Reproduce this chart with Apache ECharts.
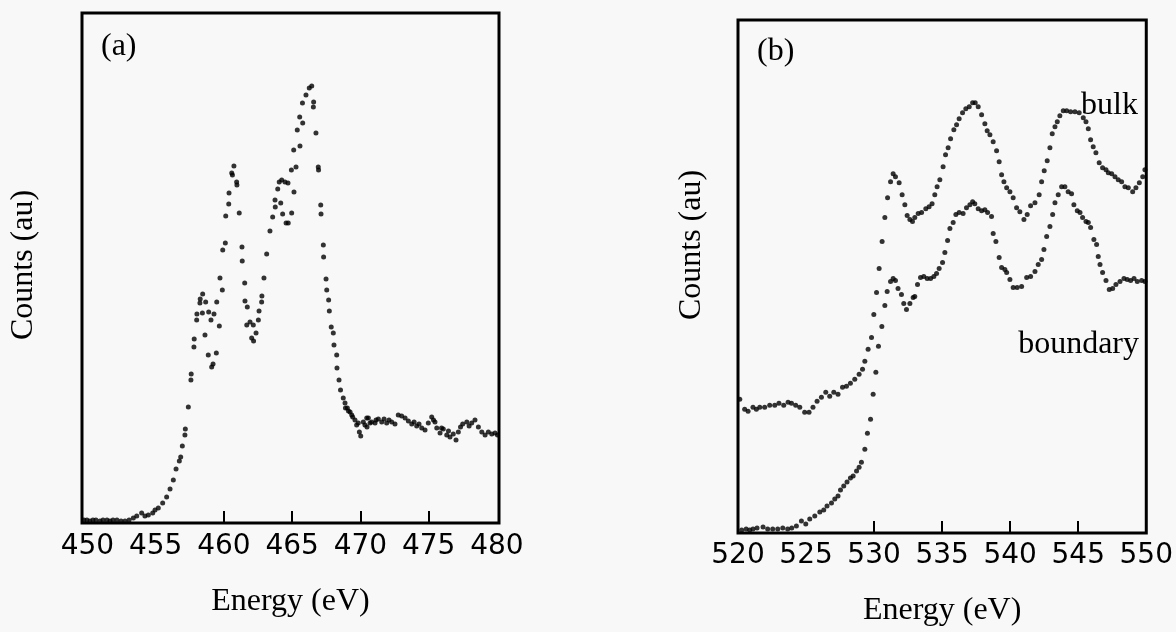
<!DOCTYPE html>
<html><head><meta charset="utf-8">
<script src="https://cdn.jsdelivr.net/npm/echarts@6/dist/echarts.min.js"></script>
<style>html,body{margin:0;padding:0;background:#f8f8f8}#c{width:1176px;height:632px}</style>
</head><body><div id="c"></div>
<script>
// Panel (a): [energy eV, counts au]
const spectrumA = [
[449.74,3],[449.96,3],[450.18,2],[450.4,3],[450.62,3],[450.92,2],[451.14,3],[451.43,3],[451.65,2],[451.87,3],[452.16,3],[452.46,2],[452.75,2],[453.05,3],
[453.36,5],[453.61,7],[453.97,10],[454.21,7],[454.46,8],[454.78,10],[454.95,13],
[455.19,15],[455.51,20],[455.80,26],[456.05,34],[456.29,43],[456.49,54],[456.73,62],[456.83,66],[456.95,77],
[457.14,88],[457.17,94],[457.39,116],[457.58,143],[457.6,149],[457.80,176],[457.82,184],[458.00,203],[458.02,209],
[458.24,220],[458.26,224],[458.44,229],[458.42,210],[458.66,221],[458.61,188],[458.88,211],[458.85,168],[459.05,203],[459.10,156],[459.2,159],
[459.27,209],[459.44,170],[459.47,221],[459.66,197],[459.71,245],[459.88,233],[459.91,273],[460.10,280],[460.13,307],
[460.35,319],[460.37,330],[460.57,350],[460.62,348],[460.73,357],[460.93,341],[460.95,338],[461.12,310],
[461.32,276],[461.34,262],[461.52,240],[461.54,222],[461.71,216],[461.67,198],[461.91,201],[462.03,185],[462.15,198],[462.17,182],
[462.35,190],[462.52,203],[462.57,212],[462.76,221],[462.78,227],[462.93,245],[463.13,269],[463.37,292],[463.57,306],[463.74,323],[463.76,316],
[463.94,334],[464.05,341],[464.16,320],[464.30,309],[464.23,343],[464.47,341],[464.55,300],[464.71,300],[464.69,340],[464.96,310],[464.94,353],
[465.13,331],[465.11,373],[465.28,356],[465.37,393],[465.57,377],[465.55,406],[465.77,400],[465.75,420],[466.01,428],
[466.25,435],[466.43,437],[466.55,416],[466.57,421],[466.74,390],[466.91,356],[466.93,353],[467.09,318],[467.11,309],[467.28,278],[467.30,266],
[467.48,244],[467.53,233],[467.67,223],[467.72,212],[467.86,196],[468.01,190],[468.06,178],[468.26,168],[468.28,155],[468.43,143],[468.54,133],[468.74,125],[468.87,120],[468.9,115],
[469.04,115],[469.12,112],[469.24,111],[469.36,108],[469.43,106],[469.60,103],[469.72,98],[469.84,100],[469.92,91],[470.02,87],
[470.21,101],[470.33,98],[470.46,105],[470.48,96],[470.58,105],[470.70,100],[470.82,101],[471.07,100],[471.14,103],
[471.31,104],[471.56,101],[471.73,104],[471.92,100],[472.09,103],[472.29,101],[472.53,99],[472.77,108],
[473.02,107],[473.27,105],[473.51,102],[473.76,99],[473.93,101],[474.12,97],[474.29,99],
[474.49,95],[474.73,93],[474.97,100],[475.22,106],[475.35,103],[475.46,101],[475.59,95],
[475.83,90],[475.94,95],[476.07,94],[476.32,88],[476.45,92],[476.56,86],[476.80,89],
[477.00,83],[477.17,91],[477.33,96],[477.49,99],[477.79,101],[477.96,97],[478.15,100],[478.39,103],
[478.64,96],[478.89,91],[479.13,88],[479.37,91],[479.62,89],[479.86,90],[480.04,88]
];
// Panel (b): bulk
const bulkB = [
[520.13,134],[520.49,124],[520.74,122],[521.10,126],[521.35,124],[521.60,126],[521.96,126],[522.33,128],[522.70,128],[523.01,130],
[523.36,128],[523.68,131],[523.93,130],[524.24,128],[524.54,126],[524.90,121],[525.22,121],[525.51,126],[525.81,132],[526.13,136],
[526.45,141],[526.74,137],[527.04,141],[527.35,139],[527.68,146],[527.97,147],[528.26,150],[528.58,154],[528.90,159],[529.15,164],
[529.32,172],[529.56,184],[529.81,196],[529.98,219],[530.18,241],[530.37,265],[530.59,292],[530.79,316],[530.99,336],[531.21,352],
[531.40,360],[531.57,357],[531.84,351],[532.06,339],[532.26,329],[532.43,318],[532.63,314],[532.82,312],[532.99,316],[533.24,320],
[533.49,321],[533.80,325],[534.04,327],[534.26,330],[534.46,339],[534.63,347],[534.83,354],[535.07,367],[535.25,379],[535.44,386],
[535.62,395],[535.86,404],[536.06,409],[536.25,415],[536.50,421],[536.74,425],[536.99,427],[537.24,431],[537.43,431],[537.65,427],
[537.90,419],[538.14,410],[538.31,403],[538.51,399],[538.75,392],[539.00,383],[539.19,372],[539.37,359],[539.54,352],[539.74,346],
[539.98,342],[540.22,336],[540.47,326],[540.71,322],[541.01,314],[541.25,319],[541.50,328],[541.82,331],[542.13,339],[542.31,352],
[542.50,363],[542.72,373],[542.92,386],[543.09,400],[543.29,407],[543.46,412],[543.65,418],[543.90,423],[544.15,423],[544.44,422],
[544.76,422],[545.07,421],[545.37,416],[545.57,412],[545.74,405],[545.91,394],[546.10,387],[546.30,381],[546.54,371],[546.79,366],
[547.04,364],[547.21,361],[547.46,360],[547.70,357],[547.94,354],[548.19,352],[548.43,347],[548.68,346],[549.00,342],[549.24,346],
[549.49,351],[549.74,357],[549.90,364]
];
// Panel (b): boundary
const boundaryB = [
[520.27,3],[520.60,4],[520.86,3],[521.10,4],[521.40,5],[521.84,6],[522.18,4],[522.55,4],[522.92,4],[523.29,5],
[523.65,4],[523.95,5],[524.29,7],[524.66,12],[524.98,9],[525.27,14],[525.64,17],[526.01,21],[526.30,23],[526.54,27],
[526.87,30],[527.11,34],[527.35,37],[527.53,43],[527.77,47],[528.01,51],[528.26,55],[528.46,57],[528.71,62],[528.90,66],
[529.07,71],[529.32,84],[529.51,100],[529.74,114],[529.93,139],[530.13,161],[530.32,187],[530.57,207],[530.79,228],[530.96,242],
[531.21,252],[531.40,255],[531.57,253],[531.76,245],[532.01,239],[532.18,230],[532.38,224],[532.63,230],[532.87,236],[532.99,237],
[533.19,249],[533.41,256],[533.65,257],[533.90,255],[534.15,255],[534.39,257],[534.59,260],[534.78,265],[535.03,271],[535.20,281],
[535.40,293],[535.57,305],[535.81,311],[536.01,319],[536.25,321],[536.54,320],[536.79,326],[537.04,329],[537.24,332],[537.40,330],
[537.65,325],[537.90,323],[538.14,324],[538.34,321],[538.63,317],[538.75,300],[538.95,292],[539.19,276],[539.37,266],[539.61,264],
[539.74,261],[539.98,254],[540.22,246],[540.51,246],[540.84,247],[541.21,256],[541.50,257],[541.82,262],[542.06,269],[542.31,274],
[542.48,284],[542.68,297],[542.92,307],[543.12,319],[543.29,331],[543.53,339],[543.78,347],[544.02,347],[544.26,342],[544.51,340],
[544.68,329],[544.93,323],[545.13,321],[545.32,316],[545.57,312],[545.74,311],[545.91,306],[546.15,294],[546.35,289],[546.47,277],
[546.60,269],[546.79,261],[547.04,253],[547.28,244],[547.53,245],[547.77,249],[548.07,252],[548.36,255],[548.60,254],[548.85,253],
[549.10,255],[549.34,252],[549.66,253],[549.90,252]
];
const labelsA = [450,455,460,465,470,475,480];
const labelsB = [520,525,530,535,540,545,550];
const ticksA = [460,465,470,475];
const ticksB = [530,535,540,545];

const serif = '"Liberation Serif", "Times New Roman", serif';
const sans = '"DejaVu Sans", sans-serif';
const ink = '#000';

function xAx(gi, min, max, labels, ticks, gap, margin) {
  return {
    type: 'value', gridIndex: gi, min: min, max: max,
    name: 'Energy (eV)', nameLocation: 'middle', nameGap: gap,
    nameTextStyle: {fontFamily: serif, fontSize: 32, color: ink},
    axisLine: {show: false}, splitLine: {show: false},
    axisTick: {show: true, inside: true, length: 12, customValues: ticks, lineStyle: {color: ink, width: 2}},
    axisLabel: {customValues: labels, margin: margin, fontFamily: sans, fontSize: 28, color: ink}
  };
}
function yAx(gi, max) {
  return {type: 'value', gridIndex: gi, min: 0, max: max,
    axisLine: {show: false}, axisTick: {show: false}, axisLabel: {show: false}, splitLine: {show: false}};
}
function txt(text, x, y, align, valign, rot) {
  return {type: 'text', x: x, y: y, rotation: rot || 0, silent: true,
    style: {text: text, fontFamily: serif, fontSize: 32, fill: ink,
      align: align, verticalAlign: valign, textAlign: align, textVerticalAlign: valign}};
}
const dot = {symbol: 'circle', symbolSize: 5, itemStyle: {color: ink}, silent: true};

const chart = echarts.init(document.getElementById('c'), null, {renderer: 'canvas'});
chart.setOption({
  backgroundColor: '#f8f8f8',
  animation: false,
  grid: [
    {left: 82, top: 13, width: 417, height: 510, show: true, borderColor: ink, borderWidth: 3, backgroundColor: 'transparent'},
    {left: 738, top: 20, width: 409, height: 514, show: true, borderColor: ink, borderWidth: 3, backgroundColor: 'transparent'}
  ],
  xAxis: [
    xAx(0, 449.6, 480.15, labelsA, ticksA, 63, 10),
    xAx(1, 520, 550, labelsB, ticksB, 62, 9)
  ],
  yAxis: [yAx(0, 510), yAx(1, 514)],
  series: [
    Object.assign({type: 'scatter', name: '(a)', xAxisIndex: 0, yAxisIndex: 0, data: spectrumA}, dot),
    Object.assign({type: 'scatter', name: 'bulk', xAxisIndex: 1, yAxisIndex: 1, data: bulkB}, dot),
    Object.assign({type: 'scatter', name: 'boundary', xAxisIndex: 1, yAxisIndex: 1, data: boundaryB}, dot)
  ],
  graphic: [
    txt('Counts (au)', 24, 265, 'center', 'middle', Math.PI / 2),
    txt('Counts (au)', 692, 245, 'center', 'middle', Math.PI / 2),
    txt('(a)', 101, 47, 'left', 'middle'),
    txt('(b)', 757, 52, 'left', 'middle'),
    txt('bulk', 1138, 90, 'right', 'alphabetic'),
    txt('boundary', 1139, 329, 'right', 'alphabetic')
  ]
});
</script></body></html>
